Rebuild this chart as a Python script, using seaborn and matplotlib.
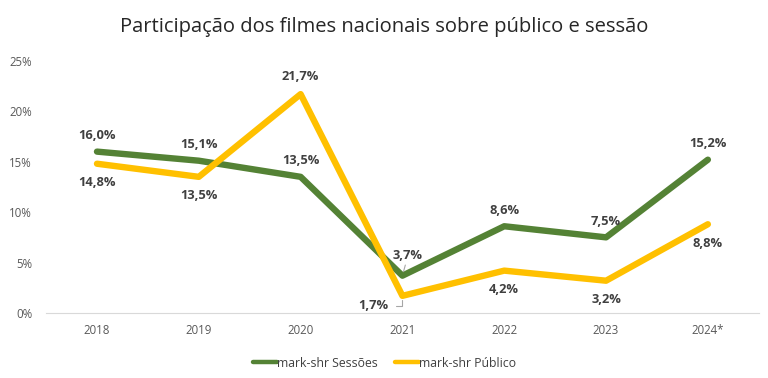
import pandas as pd
import seaborn as sns
import matplotlib.pyplot as plt
from matplotlib.ticker import PercentFormatter

years   = ['2018', '2019', '2020', '2021', '2022', '2023', '2024*']
sessoes = [16.0, 15.1, 13.5, 3.7, 8.6, 7.5, 15.2]
publico = [14.8, 13.5, 21.7, 1.7, 4.2, 3.2, 8.8]
series  = ['mark-shr Sessões', 'mark-shr Público']

# long format for seaborn
df = pd.DataFrame({
    'ano': years * 2,
    'valor': sessoes + publico,
    'serie': [series[0]] * len(years) + [series[1]] * len(years),
})
df['x'] = list(range(len(years))) * 2

sns.set_style('white')
plt.rcParams['font.family'] = ['Open Sans', 'DejaVu Sans']

fig = plt.figure(figsize=(7.68, 3.78), dpi=100)
ax = fig.add_axes([0.060, 0.172, 0.928, 0.667])

palette = {series[0]: '#548235', series[1]: '#FFC000'}
sns.lineplot(data=df, x='x', y='valor', hue='serie', palette=palette,
             linewidth=4.6, ax=ax, legend=True, solid_capstyle='round')

ax.set_xlim(-0.5, len(years) - 0.5)
ax.set_ylim(0, 25)
ax.set_yticks([0, 5, 10, 15, 20, 25])
ax.yaxis.set_major_formatter(PercentFormatter(decimals=0))
ax.set_xticks(range(len(years)))
ax.set_xticklabels(years)
ax.tick_params(axis='both', labelsize=8.3, colors='#595959', length=0)
ax.tick_params(axis='x', pad=8)
ax.tick_params(axis='y', pad=10)
ax.set_xlabel('')
ax.set_ylabel('')
for s in ['top', 'right', 'left']:
    ax.spines[s].set_visible(False)
ax.spines['bottom'].set_color('#D9D9D9')
ax.grid(False)

lab = dict(fontsize=9.3, fontweight='bold', color='#404040', ha='center')

def fmt(v):
    return f'{v:.1f}%'.replace('.', ',')

# sessões labels (above)
for i, v in enumerate(sessoes):
    if i == 3:
        continue
    ax.annotate(fmt(v), (i, v), xytext=(0, 7), textcoords='offset points', va='bottom', **lab)
ax.annotate(fmt(sessoes[3]), (3, sessoes[3]), xytext=(4, 10), textcoords='offset points',
            va='bottom', arrowprops=dict(arrowstyle='-', color='#A6A6A6', lw=0.8,
                                         shrinkA=0, shrinkB=3), **lab)

# público labels
for i, v in enumerate(publico):
    if i == 3:
        continue
    if i == 2:
        ax.annotate(fmt(v), (i, v), xytext=(0, 8), textcoords='offset points', va='bottom', **lab)
    else:
        ax.annotate(fmt(v), (i, v), xytext=(0, -9), textcoords='offset points', va='top', **lab)
ax.annotate(fmt(publico[3]), (3, publico[3]), xytext=(-21, -7), textcoords='offset points',
            va='center', arrowprops=dict(arrowstyle='-', color='#A6A6A6', lw=0.8,
                                         shrinkA=3, shrinkB=3,
                                         connectionstyle='angle,angleA=0,angleB=90'),
            **lab)

leg = ax.legend(loc='upper center', bbox_to_anchor=(0.475, -0.13), ncol=2, frameon=False,
                fontsize=8.8, handlelength=2.0, handletextpad=0.0, columnspacing=1.4)
for t in leg.get_texts():
    t.set_color('#404040')
for h in leg.get_lines():
    h.set_linewidth(3.2)

fig.suptitle('Participação dos filmes nacionais sobre público e sessão',
             y=0.955, fontsize=14.5, color='#262626')

fig.savefig('out.png', dpi=100)
